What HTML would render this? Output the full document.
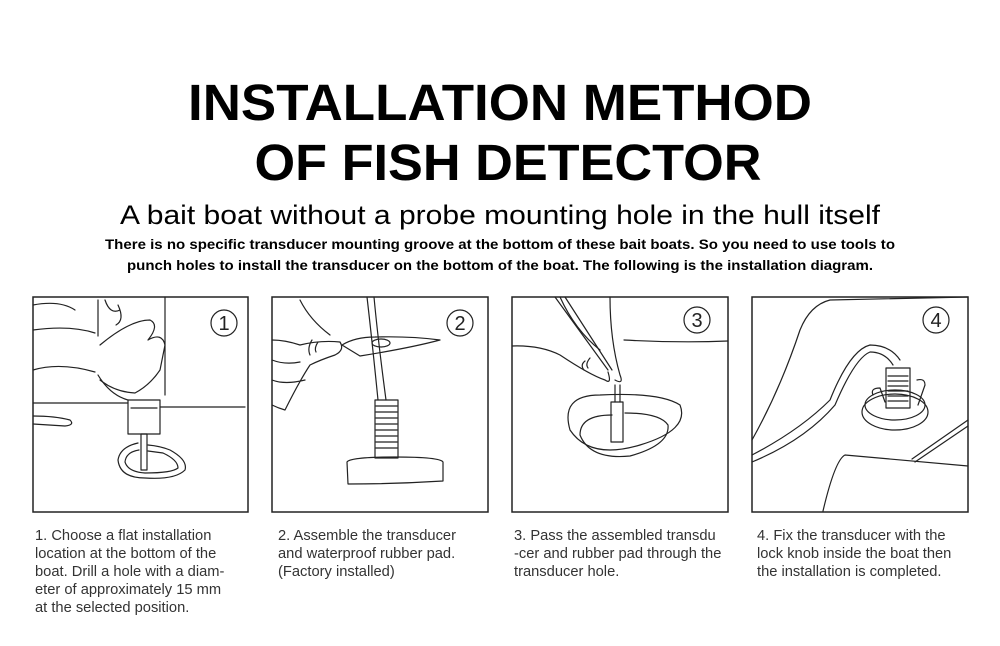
<!DOCTYPE html>
<html><head><meta charset="utf-8"><style>
html,body{margin:0;padding:0;background:#fff;width:1000px;height:646px;overflow:hidden}
svg{display:block}
text{font-family:"Liberation Sans",sans-serif}
.cap{font-size:14.7px;fill:#333}
.l{fill:none;stroke:#222;stroke-width:1.2;stroke-linejoin:round;stroke-linecap:round}
.b{fill:none;stroke:#222;stroke-width:1.5}
</style></head><body>
<svg width="1000" height="646" viewBox="0 0 1000 646">
<text x="500" y="120" text-anchor="middle" font-weight="bold" font-size="51" textLength="624" lengthAdjust="spacingAndGlyphs">INSTALLATION METHOD</text>
<text x="508" y="180" text-anchor="middle" font-weight="bold" font-size="51" textLength="507" lengthAdjust="spacingAndGlyphs">OF FISH DETECTOR</text>
<text x="500" y="224" text-anchor="middle" font-size="27" textLength="760" lengthAdjust="spacingAndGlyphs">A bait boat without a probe mounting hole in the hull itself</text>
<text x="500" y="249" text-anchor="middle" font-weight="bold" font-size="13.5" textLength="790" lengthAdjust="spacingAndGlyphs">There is no specific transducer mounting groove at the bottom of these bait boats. So you need to use tools to</text>
<text x="500" y="270" text-anchor="middle" font-weight="bold" font-size="13.5" textLength="746" lengthAdjust="spacingAndGlyphs">punch holes to install the transducer on the bottom of the boat. The following is the installation diagram.</text>

<rect class="b" x="33" y="297" width="215" height="215"/>
<rect class="b" x="272" y="297" width="216" height="215"/>
<rect class="b" x="512" y="297" width="216" height="215"/>
<rect class="b" x="752" y="297" width="216" height="215"/>

<g font-size="20" text-anchor="middle" fill="#222">
<circle class="l" cx="224" cy="323" r="13"/><text x="224" y="330">1</text>
<circle class="l" cx="460" cy="323" r="13"/><text x="460" y="330">2</text>
<circle class="l" cx="697" cy="320" r="13"/><text x="697" y="327">3</text>
<circle class="l" cx="936" cy="320" r="13"/><text x="936" y="327">4</text>
</g>

<!-- panel 1 -->
<path class="l" d="M33 403 L128 403 M160 407 L245 407"/>
<path class="l" d="M33 416 Q55 416 70 420 Q75 425 65 426 L33 424"/>
<path class="l" d="M33 305 Q60 300 75 310 M33 330 Q70 325 95 333 M33 370 Q60 362 95 372"/>
<path class="l" d="M165 297 L165 395 M98 300 L98 336 M98 375 Q110 395 128 400"/>
<path class="l" d="M100 345 Q130 320 150 320 Q160 325 148 340 Q162 332 165 345 L160 370 Q150 385 135 393 Q115 392 100 380"/>
<path class="l" d="M105 300 Q110 315 120 310 M118 305 Q125 320 116 325"/>
<rect class="l" x="128" y="400" width="32" height="34"/>
<path class="l" d="M131 408 L157 408"/>
<rect class="l" x="141" y="434" width="6" height="36"/>
<path class="l" d="M138 443 Q120 447 118 460 Q120 478 145 478 Q175 480 185 470 Q188 460 170 450 Q160 446 148 445"/>
<path class="l" d="M139 450 Q126 452 125 462 Q128 472 145 473 Q172 473 178 468 Q178 460 163 453 L148 451"/>

<!-- panel 2 -->
<path class="l" d="M367 297 Q372 340 378 400 M374 297 Q378 340 386 400"/>
<path class="l" d="M342 345 Q355 337 375 337 Q410 336 440 340 Q410 348 360 356 Z"/>
<ellipse class="l" cx="381" cy="343" rx="9" ry="4"/>
<path class="l" d="M272 340 Q285 340 300 345 Q320 340 340 342 Q345 350 335 355 Q320 360 310 365 Q300 380 285 410 Q278 408 272 405"/>
<path class="l" d="M300 300 Q310 320 330 335 M272 360 Q285 365 300 362 M272 380 Q285 385 305 380"/>
<path class="l" d="M318 342 Q314 348 316 352 M312 340 Q307 348 310 355"/>
<rect class="l" x="375" y="400" width="23" height="58"/>
<path class="l" d="M376 406 L397 406 M376 412 L397 412 M376 418 L397 418 M376 424 L397 424 M376 430 L397 430 M376 436 L397 436 M376 442 L397 442 M376 448 L397 448"/>
<path class="l" d="M347 462 Q350 457 395 457 Q440 457 443 462 L443 481 Q395 484 348 484 Z"/>

<!-- panel 3 -->
<path class="l" d="M624 340 Q680 343 728 341"/>
<path class="l" d="M512 346 Q540 345 560 355 Q590 375 605 380 Q612 385 608 372 M560 297 Q575 330 600 350 M610 297 Q610 340 620 375 Q624 385 615 380"/>
<path class="l" d="M555 297 L608 370 M565 297 L612 370"/>
<path class="l" d="M585 361 Q580 365 584 370 M590 358 Q585 364 588 368"/>
<path class="l" d="M600 395 Q560 395 570 430 Q590 460 640 445 Q690 430 680 405 Q660 392 600 395 Z"/>
<path class="l" d="M612 415 Q580 415 580 435 Q590 460 630 456 Q670 445 668 425 Q660 413 625 413"/>
<path class="l" d="M615 385 L615 402 M620 385 L620 402"/>
<rect class="l" x="611" y="402" width="12" height="40"/>

<!-- panel 4 -->
<path class="l" d="M752 440 Q780 390 800 330 Q810 305 830 300 L968 297"/>
<path class="l" d="M752 455 Q800 430 830 400 Q850 350 870 345 Q890 345 900 360 M752 462 Q805 440 835 405 Q855 358 870 352 Q885 352 893 365"/>
<path class="l" d="M823 511 Q835 460 845 455 L968 466"/>
<path class="l" d="M912 459 L968 420 M915 462 L968 426"/>
<ellipse class="l" cx="895" cy="412" rx="33" ry="18"/>
<ellipse class="l" cx="895" cy="405" rx="30" ry="15"/>
<path class="l" d="M873 395 Q870 388 880 388 L885 402 M917 380 Q925 378 925 385 L918 405"/>
<rect class="l" x="886" y="368" width="24" height="40"/>
<path class="l" d="M888 376 L908 376 M888 381 L908 381 M888 386 L908 386 M888 391 L908 391 M888 396 L908 396 M888 401 L908 401"/>

<g class="cap">
<text x="35" y="540">1. Choose a flat installation</text>
<text x="35" y="558">location at the bottom of the</text>
<text x="35" y="576">boat. Drill a hole with a diam-</text>
<text x="35" y="594">eter of approximately 15 mm</text>
<text x="35" y="612">at the selected position.</text>
<text x="278" y="540">2. Assemble the transducer</text>
<text x="278" y="558">and waterproof rubber pad.</text>
<text x="278" y="576">(Factory installed)</text>
<text x="514" y="540">3. Pass the assembled transdu</text>
<text x="514" y="558">-cer and rubber pad through the</text>
<text x="514" y="576">transducer hole.</text>
<text x="757" y="540">4. Fix the transducer with the</text>
<text x="757" y="558">lock knob inside the boat then</text>
<text x="757" y="576">the installation is completed.</text>
</g>
</svg>
</body></html>
